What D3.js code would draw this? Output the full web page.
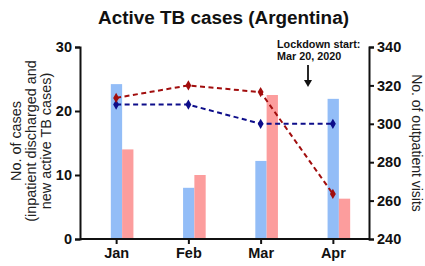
<!DOCTYPE html>
<html>
<head>
<meta charset="utf-8">
<script src="https://cdn.jsdelivr.net/npm/d3@7"></script>
<style>
  body { margin: 0; background: #fff; }
  text { font-family: "Liberation Sans", Arial, sans-serif; }
</style>
</head>
<body>
<div id="chart"></div>
<script>
const months = ["Jan", "Feb", "Mar", "Apr"];
const inpatientCases = [24.2, 8, 12.2, 21.9];   // blue bars
const newActiveCases = [14, 10, 22.5, 6.3];     // pink bars
const outpatientA = [310, 310, 300, 300];        // navy line
const outpatientB = [313.5, 320, 316.5, 263.5];  // red line
const leftTicks = [0, 10, 20, 30];
const rightTicks = [240, 260, 280, 300, 320, 340];

const W = 425, H = 266;
const margin = { top: 47, right: 56, bottom: 27, left: 80 };
const width = W - margin.left - margin.right,
  height = H - margin.top - margin.bottom;

const svg = d3.select("#chart")
  .append("svg")
  .attr("width", W)
  .attr("height", H);

const g = svg.append("g")
  .attr("transform", `translate(${margin.left},${margin.top})`);

const x = d3.scalePoint()
  .domain(months)
  .range([0, width])
  .padding(0.5);

const yL = d3.scaleLinear().domain([0, 30]).range([height, 0]);
const yR = d3.scaleLinear().domain([240, 340]).range([height, 0]);

const barW = 11.3;

// bars
g.append("g")
  .selectAll("rect")
  .data(inpatientCases)
  .join("rect")
  .attr("x", (d, i) => x(months[i]) - 5.3)
  .attr("width", barW)
  .attr("y", d => yL(d))
  .attr("height", d => height - yL(d))
  .attr("fill", "#93bdf7");

g.append("g")
  .selectAll("rect")
  .data(newActiveCases)
  .join("rect")
  .attr("x", (d, i) => x(months[i]) - 5.3 + barW)
  .attr("width", barW)
  .attr("y", d => yL(d))
  .attr("height", d => height - yL(d))
  .attr("fill", "#fc9d9d");

// dashed lines
function addLine(values, colour) {
  const line = d3.line()
    .x((d, i) => x(months[i]))
    .y(d => yR(d));
  g.append("path")
    .datum(values)
    .attr("d", line)
    .attr("fill", "none")
    .attr("stroke", colour)
    .attr("stroke-width", 2)
    .attr("stroke-dasharray", "5,3.5");
  g.append("g")
    .selectAll("path")
    .data(values)
    .join("path")
    .attr("d", d3.symbol().type(d3.symbolDiamond).size(30))
    .attr("transform", (d, i) => `translate(${x(months[i])},${yR(d)})`)
    .attr("fill", colour);
}
addLine(outpatientA, "#0d0d8a");
addLine(outpatientB, "#a10d0d");

// axes
const axisL = g.append("g")
  .call(d3.axisLeft(yL).tickValues(leftTicks).tickSize(5).tickPadding(3));
const axisR = g.append("g")
  .attr("transform", `translate(${width},0)`)
  .call(d3.axisRight(yR).tickValues(rightTicks).tickSize(5).tickPadding(3));
const axisB = g.append("g")
  .attr("transform", `translate(0,${height})`)
  .call(d3.axisBottom(x).tickSize(5).tickPadding(4));

[axisL, axisR, axisB].forEach(a => {
  a.select(".domain").attr("stroke", "#111").attr("stroke-width", 2);
  a.selectAll(".tick line").attr("stroke", "#111").attr("stroke-width", 2);
  a.selectAll(".tick text")
    .attr("fill", "#111")
    .style("font-size", "14.5px")
    .style("font-weight", "bold");
});
// bottom axis: no outer ticks
axisB.select(".domain").attr("d", `M0,0H${width}`);

// title
svg.append("text")
  .attr("x", 223.5)
  .attr("y", 24)
  .attr("text-anchor", "middle")
  .style("font-size", "18.9px")
  .style("font-weight", "bold")
  .attr("fill", "#111")
  .text("Active TB cases (Argentina)");

// left axis title
const leftTitle = ["No. of cases", "(inpatient discharged and", "new active TB cases)"];
svg.append("g")
  .attr("transform", `translate(0,141) rotate(-90)`)
  .selectAll("text")
  .data(leftTitle)
  .join("text")
  .attr("x", 0)
  .attr("y", (d, i) => 21 + i * 15)
  .attr("text-anchor", "middle")
  .style("font-size", "14.4px")
  .attr("fill", "#222")
  .text(d => d);

// right axis title
svg.append("text")
  .attr("transform", `translate(411.5,143) rotate(90)`)
  .attr("text-anchor", "middle")
  .style("font-size", "14px")
  .attr("fill", "#222")
  .text("No. of outpatient visits");

// lockdown annotation
svg.append("text")
  .attr("x", 277)
  .attr("y", 48)
  .style("font-size", "10.8px")
  .style("font-weight", "bold")
  .attr("fill", "#111")
  .text("Lockdown start:");
svg.append("text")
  .attr("x", 277)
  .attr("y", 60)
  .style("font-size", "10.8px")
  .style("font-weight", "bold")
  .attr("fill", "#111")
  .text("Mar 20, 2020");
svg.append("line")
  .attr("x1", 308).attr("x2", 308)
  .attr("y1", 65).attr("y2", 82)
  .attr("stroke", "#111")
  .attr("stroke-width", 1.8);
svg.append("path")
  .attr("d", "M304,80 L312,80 L308,87 Z")
  .attr("fill", "#111");
</script>
</body>
</html>
